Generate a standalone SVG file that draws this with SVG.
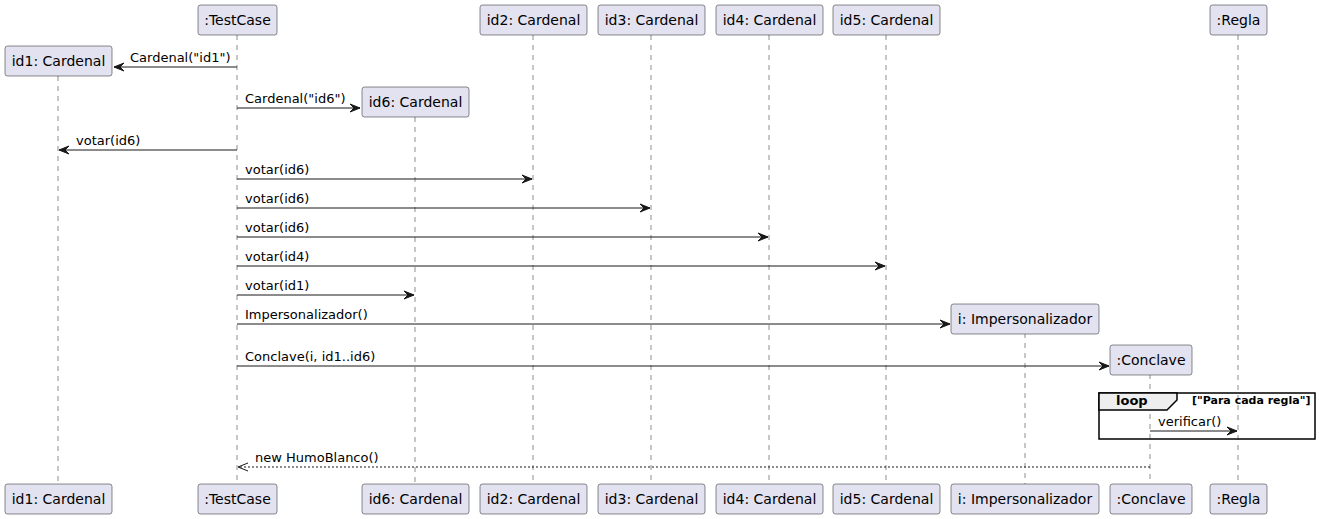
<svg xmlns="http://www.w3.org/2000/svg" width="1319" height="519" viewBox="0 0 1319 519">
<style>
.box{fill:#E2E2F0;stroke:#181818;stroke-width:0.5}
.pt{font-family:"DejaVu Sans",sans-serif;font-size:14px;fill:#000;text-anchor:middle}
.life{stroke:#181818;stroke-width:0.5;stroke-dasharray:5,5;fill:none}
.msg{stroke:#181818;stroke-width:1;fill:none}
.ret{stroke:#181818;stroke-width:1;stroke-dasharray:2,2;fill:none}
.ml{font-family:"DejaVu Sans",sans-serif;font-size:13px;fill:#000}
.head{fill:#181818;stroke:#181818;stroke-width:1}
</style>
<rect width="1319" height="519" fill="#FFFFFF"/>
<g id="lifelines">
<line class="life" x1="58" y1="76" x2="58" y2="484"/>
<line class="life" x1="237" y1="35" x2="237" y2="484"/>
<line class="life" x1="415" y1="117" x2="415" y2="484"/>
<line class="life" x1="533" y1="35" x2="533" y2="484"/>
<line class="life" x1="651" y1="35" x2="651" y2="484"/>
<line class="life" x1="769" y1="35" x2="769" y2="484"/>
<line class="life" x1="886" y1="35" x2="886" y2="484"/>
<line class="life" x1="1025" y1="333" x2="1025" y2="484"/>
<line class="life" x1="1150" y1="374" x2="1150" y2="484"/>
<line class="life" x1="1238" y1="35" x2="1238" y2="484"/>
</g>
<g id="loop">
<rect x="1099" y="393" width="216" height="46" fill="none" stroke="#000" stroke-width="1.5"/>
<path d="M1099,393 L1177,393 L1177,400 L1167,410 L1099,410 Z" fill="#EEEEEE" stroke="#000" stroke-width="1.5"/>
<text x="1116" y="405" font-family="DejaVu Sans,sans-serif" font-size="13px" font-weight="bold">loop</text>
<text x="1192" y="404" font-family="DejaVu Sans,sans-serif" font-size="11px" font-weight="bold">["Para cada regla"]</text>
</g>
<g id="connectors">
<line class="msg" x1="237" y1="67" x2="114" y2="67"/>
<polygon class="head" points="114,67 124,63 120,67 124,71"/>
<text class="ml" x="130" y="62">Cardenal("id1")</text>
<line class="msg" x1="237" y1="108" x2="360" y2="108"/>
<polygon class="head" points="360,108 350,104 354,108 350,112"/>
<text class="ml" x="245" y="103">Cardenal("id6")</text>
<line class="msg" x1="237" y1="150" x2="59" y2="150"/>
<polygon class="head" points="59,150 69,146 65,150 69,154"/>
<text class="ml" x="76" y="145">votar(id6)</text>
<line class="msg" x1="237" y1="179" x2="532" y2="179"/>
<polygon class="head" points="532,179 522,175 526,179 522,183"/>
<text class="ml" x="245" y="174">votar(id6)</text>
<line class="msg" x1="237" y1="208" x2="650" y2="208"/>
<polygon class="head" points="650,208 640,204 644,208 640,212"/>
<text class="ml" x="245" y="203">votar(id6)</text>
<line class="msg" x1="237" y1="237" x2="768" y2="237"/>
<polygon class="head" points="768,237 758,233 762,237 758,241"/>
<text class="ml" x="245" y="232">votar(id6)</text>
<line class="msg" x1="237" y1="266" x2="885" y2="266"/>
<polygon class="head" points="885,266 875,262 879,266 875,270"/>
<text class="ml" x="245" y="261">votar(id4)</text>
<line class="msg" x1="237" y1="295" x2="414" y2="295"/>
<polygon class="head" points="414,295 404,291 408,295 404,299"/>
<text class="ml" x="245" y="290">votar(id1)</text>
<line class="msg" x1="237" y1="324" x2="950" y2="324"/>
<polygon class="head" points="950,324 940,320 944,324 940,328"/>
<text class="ml" x="245" y="319">Impersonalizador()</text>
<line class="msg" x1="237" y1="366" x2="1109" y2="366"/>
<polygon class="head" points="1109,366 1099,362 1103,366 1099,370"/>
<text class="ml" x="245" y="361">Conclave(i, id1..id6)</text>
<line class="msg" x1="1150" y1="431" x2="1237" y2="431"/>
<polygon class="head" points="1237,431 1227,427 1231,431 1227,435"/>
<text class="ml" x="1158" y="426">verificar()</text>
<line class="ret" x1="1150" y1="467" x2="238" y2="467"/>
<polyline points="248,463 238,467 248,471" fill="none" stroke="#181818" stroke-width="1"/>
<text class="ml" x="255" y="462">new HumoBlanco()</text>
</g>
<g id="id1">
<rect class="box" x="5" y="46" width="107" height="30" rx="2.5"/>
<text class="pt" x="58.5" y="66">id1: Cardenal</text>
<rect class="box" x="5" y="484" width="107" height="30" rx="2.5"/>
<text class="pt" x="58.5" y="504">id1: Cardenal</text>
</g>
<g id="testcase">
<rect class="box" x="198" y="5" width="79" height="30" rx="2.5"/>
<text class="pt" x="237.5" y="25">:TestCase</text>
<rect class="box" x="198" y="484" width="79" height="30" rx="2.5"/>
<text class="pt" x="237.5" y="504">:TestCase</text>
</g>
<g id="id6">
<rect class="box" x="362" y="87" width="107" height="30" rx="2.5"/>
<text class="pt" x="415.5" y="107">id6: Cardenal</text>
<rect class="box" x="362" y="484" width="107" height="30" rx="2.5"/>
<text class="pt" x="415.5" y="504">id6: Cardenal</text>
</g>
<g id="id2">
<rect class="box" x="480" y="5" width="107" height="30" rx="2.5"/>
<text class="pt" x="533.5" y="25">id2: Cardenal</text>
<rect class="box" x="480" y="484" width="107" height="30" rx="2.5"/>
<text class="pt" x="533.5" y="504">id2: Cardenal</text>
</g>
<g id="id3">
<rect class="box" x="598" y="5" width="107" height="30" rx="2.5"/>
<text class="pt" x="651.5" y="25">id3: Cardenal</text>
<rect class="box" x="598" y="484" width="107" height="30" rx="2.5"/>
<text class="pt" x="651.5" y="504">id3: Cardenal</text>
</g>
<g id="id4">
<rect class="box" x="716" y="5" width="107" height="30" rx="2.5"/>
<text class="pt" x="769.5" y="25">id4: Cardenal</text>
<rect class="box" x="716" y="484" width="107" height="30" rx="2.5"/>
<text class="pt" x="769.5" y="504">id4: Cardenal</text>
</g>
<g id="id5">
<rect class="box" x="833" y="5" width="107" height="30" rx="2.5"/>
<text class="pt" x="886.5" y="25">id5: Cardenal</text>
<rect class="box" x="833" y="484" width="107" height="30" rx="2.5"/>
<text class="pt" x="886.5" y="504">id5: Cardenal</text>
</g>
<g id="impersonalizador">
<rect class="box" x="951" y="304" width="148" height="30" rx="2.5"/>
<text class="pt" x="1025" y="324">i: Impersonalizador</text>
<rect class="box" x="951" y="484" width="148" height="30" rx="2.5"/>
<text class="pt" x="1025" y="504">i: Impersonalizador</text>
</g>
<g id="conclave">
<rect class="box" x="1110" y="345" width="82" height="30" rx="2.5"/>
<text class="pt" x="1151" y="365">:Conclave</text>
<rect class="box" x="1110" y="484" width="82" height="30" rx="2.5"/>
<text class="pt" x="1151" y="504">:Conclave</text>
</g>
<g id="regla">
<rect class="box" x="1210" y="5" width="57" height="30" rx="2.5"/>
<text class="pt" x="1238.5" y="25">:Regla</text>
<rect class="box" x="1210" y="484" width="57" height="30" rx="2.5"/>
<text class="pt" x="1238.5" y="504">:Regla</text>
</g>
</svg>
